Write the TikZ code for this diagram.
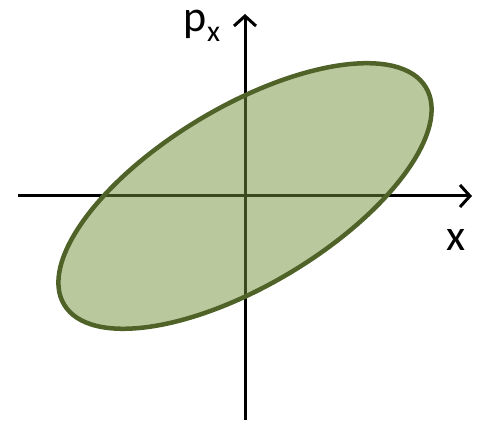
\documentclass[tikz,border=0pt]{standalone}
\usepackage{fontspec}
\setmainfont{Carlito}
\usetikzlibrary{arrows.meta,positioning,shapes.geometric}
\definecolor{crelleno}{HTML}{76923C}
\definecolor{cborde}{HTML}{4F6228}
\tikzset{
  eje/.style={-{Straight Barb[length=10pt,width=22pt]},line width=3pt,draw=black},
  elipse/.style={ellipse,draw=cborde,fill=crelleno,fill opacity=0.5,line width=4.5pt,
                 inner sep=0pt},
  et/.style={font=\fontsize{44}{44}\selectfont,inner sep=0pt},
}
\begin{document}
\begin{tikzpicture}[x=1pt,y=1pt]
\useasboundingbox (0,0) rectangle (479,425);

\coordinate (o) at (245,229);
\coordinate (xi) at (18,229);
\coordinate (xf) at (472,229);
\coordinate (pi) at (245,5);
\coordinate (pf) at (245,411);

\draw[eje] (xi) -- (xf);
\draw[eje] (pi) -- (pf);

\node[elipse,rotate=31,minimum width=422pt,minimum height=178pt] (fase) at (o) {};

\node[et] (lx) at (456,185) {x};
\node[et] (lp) at (202,399) {p\raisebox{-0.22em}{\fontsize{30}{30}\selectfont x}};

\end{tikzpicture}
\end{document}
